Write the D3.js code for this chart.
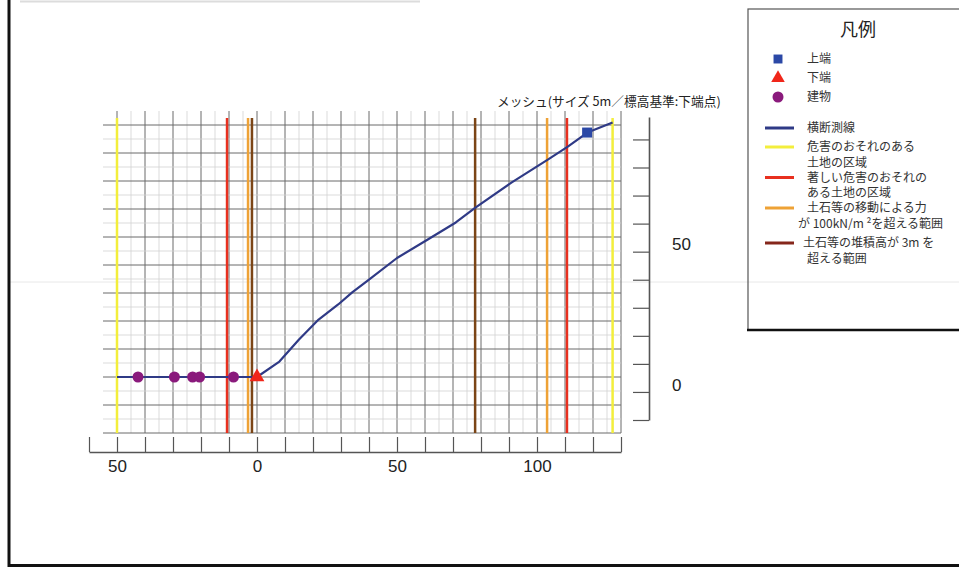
<!DOCTYPE html>
<html>
<head>
<meta charset="utf-8">
<script src="https://cdn.jsdelivr.net/npm/d3@7"></script>
<style>
  body { margin: 0; background: #fff; }
  svg { display: block; }
  text { font-family: "Liberation Sans", Arial, sans-serif; }
  .jp { font-family: "Noto Sans CJK JP", "Noto Sans", sans-serif; }
</style>
</head>
<body>
<svg id="chart" width="959" height="572"></svg>
<script>
// cross-section profile (horizontal distance m, elevation m)
const profileX = [-50, -40, -30, -20, -10, 0, 8, 15, 22, 29, 34, 40, 50, 61, 71, 78, 91, 104, 111, 118, 127];
const profileY = [0, 0, 0, 0, 0, 0, 5.5, 13.4, 20.5, 25.9, 30.2, 34.8, 42.5, 49.1, 55.2, 60.5, 69.5, 77.7, 82.3, 87.3, 90.9];

// buildings on the line
const buildingX = [-42.5, -29.5, -23, -20.5, -8.4];
const buildingY = [0, 0, 0, 0, 0];

// top end / bottom end
const topEnd = [117.9, 87.3];
const bottomEnd = [0, 0];

// zone boundaries (x positions)
const hazardZone = [-50, 127];
const severeZone = [-10.7, 110.7];
const forceZone = [-3.2, 103.6];
const depositZone = [-1.8, 77.9];

const xTicks = d3.range(-60, 131, 10);
const xLabels = [-50, 0, 50, 100];
const yTicks = d3.range(-10, 91, 10);
const yLabels = [0, 50];

const meshNote = "メッシュ(サイズ 5m／標高基準:下端点)";

const C = {
  line: "#2f3a86",
  yellow: "#f3ee3c",
  red: "#e8301f",
  orange: "#eea236",
  brown: "#7b4516",
  maroon: "#85261b",
  purple: "#8a1a7c",
  blue: "#2b48a6",
  tri: "#f0261a"
};

const svg = d3.select("#chart");

const x = d3.scaleLinear().domain([-60, 130]).range([89, 621]);
const y = d3.scaleLinear().domain([-20, 95]).range([433, 111]);
const yR = d3.scaleLinear().domain([-10, 98]).range([420, 117]);

// page frame + scan line
svg.append("line").attr("x1", 20).attr("x2", 420).attr("y1", 1.5).attr("y2", 1.5)
  .attr("stroke", "#dcdcdc").attr("stroke-width", 2);
svg.append("line").attr("x1", 10).attr("x2", 959).attr("y1", 282).attr("y2", 282)
  .attr("stroke", "#e8e8e8").attr("stroke-width", 1);
svg.append("line").attr("x1", 9).attr("x2", 9).attr("y1", 0).attr("y2", 567)
  .attr("stroke", "#111").attr("stroke-width", 3);
svg.append("line").attr("x1", 8).attr("x2", 959).attr("y1", 565.5).attr("y2", 565.5)
  .attr("stroke", "#111").attr("stroke-width", 3);

// grid
const grid = svg.append("g");
const vLines = d3.range(-50, 131, 5);
const hLines = d3.range(-20, 91, 5);
grid.selectAll(".v").data(vLines).join("line")
  .attr("x1", (d) => x(d)).attr("x2", (d) => x(d))
  .attr("y1", y(-20)).attr("y2", y(95))
  .attr("stroke", (d) => d % 10 === 0 ? "#6a6a6a" : "#d2d2d2")
  .attr("stroke-width", (d) => d % 10 === 0 ? 1 : 0.8);
grid.selectAll(".h").data(hLines).join("line")
  .attr("x1", x(-55)).attr("x2", x(130))
  .attr("y1", (d) => y(d)).attr("y2", (d) => y(d))
  .attr("stroke", (d) => d % 10 === 0 ? "#6a6a6a" : "#d2d2d2")
  .attr("stroke-width", (d) => d % 10 === 0 ? 1 : 0.8);

// zone boundary lines
const zones = [
  { xs: hazardZone, color: C.yellow },
  { xs: severeZone, color: C.red },
  { xs: forceZone, color: C.orange },
  { xs: depositZone, color: C.brown }
];
zones.forEach((z) => {
  svg.append("g").selectAll("line").data(z.xs).join("line")
    .attr("x1", (d) => x(d)).attr("x2", (d) => x(d))
    .attr("y1", y(-20)).attr("y2", y(92.5))
    .attr("stroke", z.color).attr("stroke-width", 2.5);
});

// profile line
const profile = profileX.map((d, i) => [d, profileY[i]]);
svg.append("path").datum(profile)
  .attr("fill", "none")
  .attr("stroke", C.line)
  .attr("stroke-width", 2.2)
  .attr("stroke-linejoin", "round")
  .attr("d", d3.line().x((d) => x(d[0])).y((d) => y(d[1])));

// buildings
svg.append("g").selectAll("circle").data(buildingX).join("circle")
  .attr("cx", (d) => x(d)).attr("cy", (d, i) => y(buildingY[i]))
  .attr("r", 5.5).attr("fill", C.purple);

// bottom end / top end
svg.append("path")
  .attr("d", d3.symbol(d3.symbolTriangle, 95)())
  .attr("transform", `translate(${x(bottomEnd[0])},${y(bottomEnd[1])})`)
  .attr("fill", C.tri);
svg.append("path")
  .attr("d", d3.symbol(d3.symbolSquare, 100)())
  .attr("transform", `translate(${x(topEnd[0])},${y(topEnd[1])})`)
  .attr("fill", C.blue);

// axes
const styleAxis = (g) => {
  g.selectAll(".domain").attr("stroke", "#555").attr("stroke-width", 1.6);
  g.selectAll(".tick line").attr("stroke", "#555").attr("stroke-width", 1.2);
  g.selectAll("text").attr("font-size", 17).attr("fill", "#222")
    .attr("font-family", "'Liberation Sans', Arial, sans-serif");
};

const xAxis = svg.append("g")
  .attr("transform", "translate(0,452)")
  .call(d3.axisBottom(x)
    .tickValues(xTicks)
    .tickSize(-15)
    .tickSizeOuter(0)
    .tickPadding(8)
    .tickFormat((d) => xLabels.includes(d) ? Math.abs(d) : ""));
styleAxis(xAxis);

const yAxis = svg.append("g")
  .attr("transform", "translate(649,0)")
  .call(d3.axisRight(yR)
    .tickValues(yTicks)
    .tickSize(-16)
    .tickSizeOuter(0)
    .tickPadding(23)
    .tickFormat((d) => yLabels.includes(d) ? d : ""));
styleAxis(yAxis);
yAxis.selectAll("text").attr("dy", "-0.1em");

// mesh note
svg.append("text").attr("class", "jp")
  .attr("x", 497).attr("y", 102).attr("dy", "0.35em")
  .attr("font-size", 12.7).attr("fill", "#222")
  .text(meshNote);

// legend
const lg = svg.append("g");
lg.append("rect").attr("x", 748).attr("y", 9).attr("width", 230).attr("height", 321)
  .attr("fill", "none").attr("stroke", "#555").attr("stroke-width", 1.2);
lg.append("line").attr("x1", 747).attr("x2", 959).attr("y1", 330).attr("y2", 330)
  .attr("stroke", "#111").attr("stroke-width", 2.5);
lg.append("text").attr("class", "jp").attr("x", 858).attr("y", 30).attr("dy", "0.35em")
  .attr("text-anchor", "middle").attr("font-size", 18).attr("fill", "#222").text("凡例");

const markerItems = [
  { label: "上端", shape: d3.symbolSquare, size: 80, color: C.blue, y: 59 },
  { label: "下端", shape: d3.symbolTriangle, size: 80, color: C.tri, y: 78 },
  { label: "建物", shape: d3.symbolCircle, size: 95, color: C.purple, y: 97 }
];
markerItems.forEach((m) => {
  lg.append("path").attr("d", d3.symbol(m.shape, m.size)())
    .attr("transform", `translate(778,${m.y})`).attr("fill", m.color);
  lg.append("text").attr("class", "jp").attr("x", 807).attr("y", m.y).attr("dy", "0.35em")
    .attr("font-size", 12).attr("fill", "#333").text(m.label);
});

const lineItems = [
  { color: C.line, y: 128, lines: [["横断測線", 807]] },
  { color: C.yellow, y: 147, lines: [["危害のおそれのある", 807], ["土地の区域", 807]] },
  { color: C.red, y: 177.5, lines: [["著しい危害のおそれの", 807], ["ある土地の区域", 807]] },
  { color: C.orange, y: 208, lines: [["土石等の移動による力", 807], ["が 100kN/m ²を超える範囲", 798]] },
  { color: C.maroon, y: 243, lines: [["土石等の堆積高が 3m を", 803], ["超える範囲", 807]] }
];
lineItems.forEach((it) => {
  lg.append("line").attr("x1", 765).attr("x2", 794).attr("y1", it.y).attr("y2", it.y)
    .attr("stroke", it.color).attr("stroke-width", 3);
  const t = lg.append("text").attr("class", "jp").attr("y", it.y)
    .attr("font-size", 12).attr("fill", "#333");
  it.lines.forEach(([s, tx], i) => {
    t.append("tspan").attr("x", tx).attr("y", it.y + i * 15.3).attr("dy", "0.35em").text(s);
  });
});
</script>
</body>
</html>
